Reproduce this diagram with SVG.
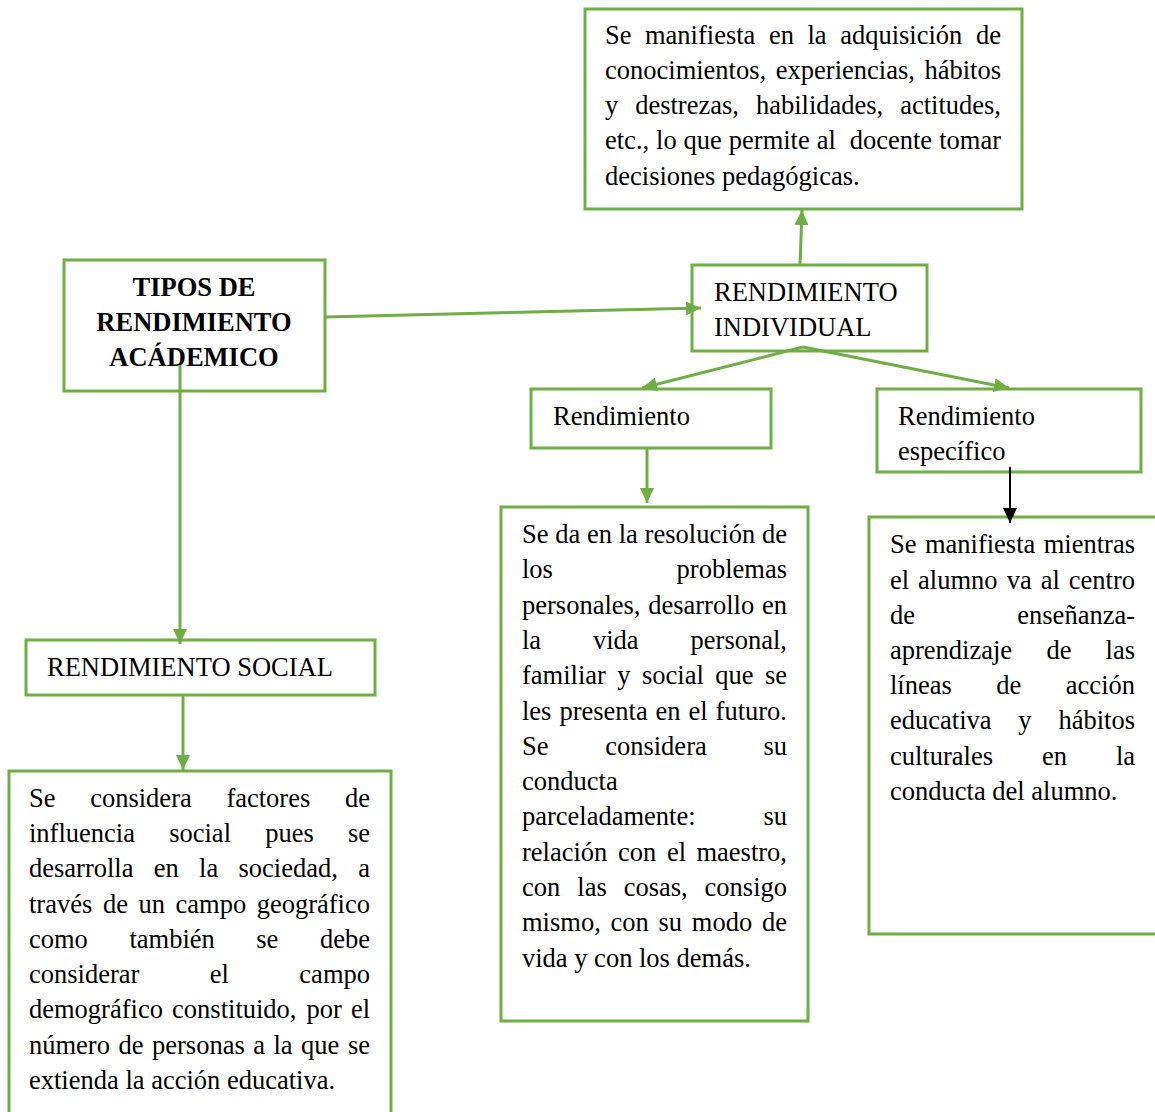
<svg xmlns="http://www.w3.org/2000/svg" width="1155" height="1112" viewBox="0 0 1155 1112">
<style>
.box{fill:#fff;stroke:#70AD47;stroke-width:3}
.t{font-family:"Liberation Serif","Times New Roman",serif;font-size:26.5px;fill:#000}
.b{font-weight:bold}
.e{text-anchor:end}
.c{text-anchor:middle}
.ln{stroke:#70AD47;stroke-width:3;fill:none}
</style>
<defs>
<marker id="ga" markerUnits="userSpaceOnUse" markerWidth="16" markerHeight="14" refX="15" refY="7" orient="auto"><path d="M0,0 L15,7 L0,14 z" fill="#70AD47"/></marker>
<marker id="ka" markerUnits="userSpaceOnUse" markerWidth="16" markerHeight="14" refX="15" refY="7" orient="auto"><path d="M0,0 L15,7 L0,14 z" fill="#000"/></marker>
</defs>
<rect width="1155" height="1112" fill="#fff"/>

<g id="top-desc">
<rect class="box" x="585" y="9" width="437" height="200"/>
<text class="t"><tspan x="605" y="44">Se</tspan><tspan x="645" y="44">manifiesta</tspan><tspan x="769" y="44">en</tspan><tspan x="807.5" y="44">la</tspan><tspan x="840.2" y="44">adquisición</tspan><tspan class="e" x="1001" y="44">de</tspan></text>
<text class="t"><tspan x="605" y="79">conocimientos,</tspan><tspan x="775.8" y="79">experiencias,</tspan><tspan class="e" x="1001" y="79">hábitos</tspan></text>
<text class="t"><tspan x="605" y="114">y</tspan><tspan x="635.2" y="114">destrezas,</tspan><tspan x="755.9" y="114">habilidades,</tspan><tspan class="e" x="1001" y="114">actitudes,</tspan></text>
<text class="t"><tspan x="605" y="149">etc.,</tspan><tspan x="656.1" y="149">lo</tspan><tspan x="683.6" y="149">que</tspan><tspan x="728.8" y="149">permite</tspan><tspan x="816.7" y="149">al</tspan><tspan x="849.7" y="149">docente</tspan><tspan class="e" x="1001" y="149">tomar</tspan></text>
<text class="t" x="605" y="185">decisiones pedagógicas.</text>
</g>

<g id="tipos">
<rect class="box" x="64" y="260" width="261" height="131"/>
<text class="t b c" x="194" y="296">TIPOS DE</text>
<text class="t b c" x="194" y="331">RENDIMIENTO</text>
<text class="t b c" x="194" y="366">ACÁDEMICO</text>
</g>

<g id="individual">
<rect class="box" x="692" y="265" width="235" height="86"/>
<text class="t" x="714" y="301">RENDIMIENTO</text>
<text class="t" x="714" y="336">INDIVIDUAL</text>
</g>

<g id="rendimiento">
<rect class="box" x="531" y="389" width="240" height="59"/>
<text class="t" x="553" y="425">Rendimiento</text>
</g>

<g id="especifico">
<rect class="box" x="877" y="389" width="264" height="83"/>
<text class="t" x="898" y="425">Rendimiento</text>
<text class="t" x="898" y="460">específico</text>
</g>

<g id="social">
<rect class="box" x="26" y="640" width="349" height="55"/>
<text class="t" x="47" y="676">RENDIMIENTO SOCIAL</text>
</g>

<g id="mid-desc">
<rect class="box" x="501" y="507" width="307" height="514"/>
<text class="t" x="522" y="543" textLength="265" lengthAdjust="spacing">Se da en la resolución de</text>
<text class="t"><tspan x="522" y="578">los</tspan><tspan class="e" x="787" y="578">problemas</tspan></text>
<text class="t"><tspan x="522" y="614">personales,</tspan><tspan x="648.2" y="614">desarrollo</tspan><tspan class="e" x="787" y="614">en</tspan></text>
<text class="t"><tspan x="522" y="649">la</tspan><tspan x="593" y="649">vida</tspan><tspan class="e" x="787" y="649">personal,</tspan></text>
<text class="t"><tspan x="522" y="684">familiar</tspan><tspan x="617.3" y="684">y</tspan><tspan x="642" y="684">social</tspan><tspan x="715.2" y="684">que</tspan><tspan class="e" x="787" y="684">se</tspan></text>
<text class="t"><tspan x="522" y="720">les</tspan><tspan x="559.4" y="720">presenta</tspan><tspan x="655.6" y="720">en</tspan><tspan x="688.6" y="720">el</tspan><tspan class="e" x="787" y="720">futuro.</tspan></text>
<text class="t"><tspan x="522" y="755">Se</tspan><tspan x="605.2" y="755">considera</tspan><tspan class="e" x="787" y="755">su</tspan></text>
<text class="t" x="522" y="790">conducta</text>
<text class="t"><tspan x="522" y="825">parceladamente:</tspan><tspan class="e" x="787" y="825">su</tspan></text>
<text class="t"><tspan x="522" y="861">relación</tspan><tspan x="618" y="861">con</tspan><tspan x="666.9" y="861">el</tspan><tspan class="e" x="787" y="861">maestro,</tspan></text>
<text class="t"><tspan x="522" y="896">con</tspan><tspan x="577.3" y="896">las</tspan><tspan x="623.7" y="896">cosas,</tspan><tspan class="e" x="787" y="896">consigo</tspan></text>
<text class="t"><tspan x="522" y="931">mismo,</tspan><tspan x="610.5" y="931">con</tspan><tspan x="658.5" y="931">su</tspan><tspan x="691.8" y="931">modo</tspan><tspan class="e" x="787" y="931">de</tspan></text>
<text class="t" x="522" y="967">vida y con los demás.</text>
</g>

<g id="right-desc">
<rect class="box" x="869" y="517" width="288" height="417"/>
<text class="t"><tspan x="890" y="553">Se</tspan><tspan x="924.9" y="553">manifiesta</tspan><tspan class="e" x="1135" y="553">mientras</tspan></text>
<text class="t"><tspan x="890" y="589">el</tspan><tspan x="918.1" y="589">alumno</tspan><tspan x="1006.7" y="589">va</tspan><tspan x="1040.7" y="589">al</tspan><tspan class="e" x="1135" y="589">centro</tspan></text>
<text class="t"><tspan x="890" y="624">de</tspan><tspan class="e" x="1135" y="624">enseñanza-</tspan></text>
<text class="t"><tspan x="890" y="659">aprendizaje</tspan><tspan x="1046.4" y="659">de</tspan><tspan class="e" x="1135" y="659">las</tspan></text>
<text class="t"><tspan x="890" y="694">líneas</tspan><tspan x="996.3" y="694">de</tspan><tspan class="e" x="1135" y="694">acción</tspan></text>
<text class="t"><tspan x="890" y="729">educativa</tspan><tspan x="1018.3" y="729">y</tspan><tspan class="e" x="1135" y="729">hábitos</tspan></text>
<text class="t"><tspan x="890" y="765">culturales</tspan><tspan x="1041.9" y="765">en</tspan><tspan class="e" x="1135" y="765">la</tspan></text>
<text class="t" x="890" y="800">conducta del alumno.</text>
</g>

<g id="social-desc">
<rect class="box" x="9" y="771" width="382" height="350"/>
<text class="t"><tspan x="29" y="807">Se</tspan><tspan x="90.2" y="807">considera</tspan><tspan x="226.4" y="807">factores</tspan><tspan class="e" x="370" y="807">de</tspan></text>
<text class="t"><tspan x="29" y="842">influencia</tspan><tspan x="169.2" y="842">social</tspan><tspan x="265.2" y="842">pues</tspan><tspan class="e" x="370" y="842">se</tspan></text>
<text class="t"><tspan x="29" y="877">desarrolla</tspan><tspan x="153.8" y="877">en</tspan><tspan x="199.1" y="877">la</tspan><tspan x="238.5" y="877">sociedad,</tspan><tspan class="e" x="370" y="877">a</tspan></text>
<text class="t"><tspan x="29" y="913">través</tspan><tspan x="102.9" y="913">de</tspan><tspan x="138.5" y="913">un</tspan><tspan x="175.6" y="913">campo</tspan><tspan class="e" x="370" y="913">geográfico</tspan></text>
<text class="t"><tspan x="29" y="948">como</tspan><tspan x="129.4" y="948">también</tspan><tspan x="256.3" y="948">se</tspan><tspan class="e" x="370" y="948">debe</tspan></text>
<text class="t"><tspan x="29" y="983">considerar</tspan><tspan x="209.8" y="983">el</tspan><tspan class="e" x="370" y="983">campo</tspan></text>
<text class="t"><tspan x="29" y="1018">demográfico</tspan><tspan x="172.1" y="1018">constituido,</tspan><tspan x="306.4" y="1018">por</tspan><tspan class="e" x="370" y="1018">el</tspan></text>
<text class="t"><tspan x="29" y="1054">número</tspan><tspan x="118.5" y="1054">de</tspan><tspan x="152" y="1054">personas</tspan><tspan x="253.2" y="1054">a</tspan><tspan x="273.5" y="1054">la</tspan><tspan x="301.1" y="1054">que</tspan><tspan class="e" x="370" y="1054">se</tspan></text>
<text class="t" x="29" y="1089">extienda la acción educativa.</text>
</g>

<g id="connectors">
<line class="ln" x1="325" y1="317" x2="701" y2="308" marker-end="url(#ga)"/>
<line class="ln" x1="800" y1="265" x2="802" y2="210" marker-end="url(#ga)"/>
<line class="ln" x1="803" y1="347" x2="642" y2="388" marker-end="url(#ga)"/>
<line class="ln" x1="803" y1="347" x2="1009" y2="388" marker-end="url(#ga)"/>
<line class="ln" x1="647" y1="448" x2="647" y2="503" marker-end="url(#ga)"/>
<line class="ln" x1="180" y1="365" x2="180" y2="644" marker-end="url(#ga)"/>
<line class="ln" x1="183" y1="695" x2="183" y2="770" marker-end="url(#ga)"/>
<line x1="1010" y1="467" x2="1010" y2="523" stroke="#000" stroke-width="2" marker-end="url(#ka)"/>
</g>
</svg>
